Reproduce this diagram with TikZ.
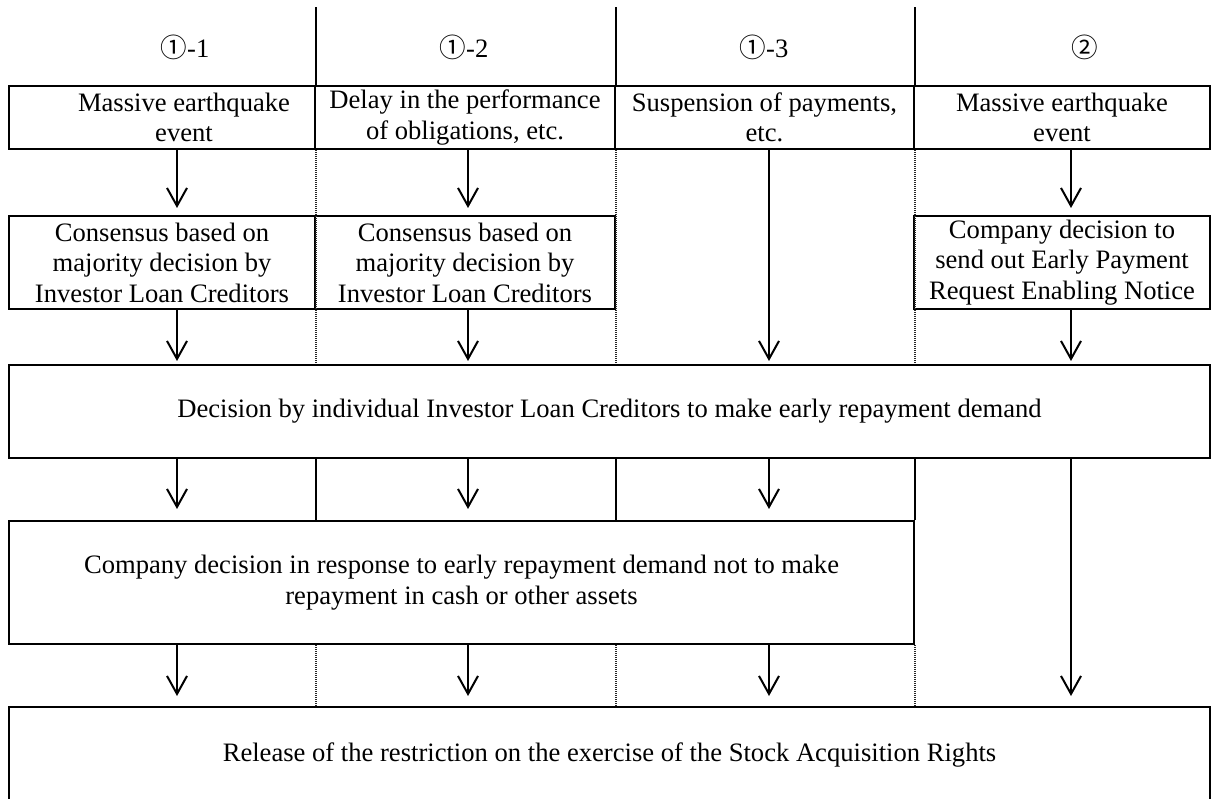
\documentclass[tikz,border=0pt]{standalone}
\usepackage{fontspec}
\setmainfont{Liberation Serif}
\newfontfamily\circfont{Noto Sans CJK JP}
\usetikzlibrary{arrows.meta}

\tikzset{
    txt/.style={align=center, inner sep=0pt, font=\fontsize{26.6}{30.5}\selectfont},
    box/.style={txt, draw, line width=2pt},
    arr/.style={line width=2pt, -{Straight Barb[length=18pt,width=20pt,line width=2pt]}, shorten >=7pt},
    sep/.style={line width=2pt},
    dots/.style={line width=2pt, black!85, dash pattern=on 1pt off 1pt},
}

\begin{document}
\begin{tikzpicture}[x=1pt, y=-1pt]
    \useasboundingbox (0,0) rectangle (1211,799);
    \clip (0,0) rectangle (1211,799);

    \node[txt] (h1) at (185, 47){{\circfont ①}-1};
    \node[txt] (h2) at (464, 47){{\circfont ①}-2};
    \node[txt] (h3) at (764, 47){{\circfont ①}-3};
    \node[txt] (h4) at (1085, 47){{\circfont ②}};

    \node[box, minimum width=306pt, minimum height=63pt,
        label={[txt, xshift=22pt]center:{Massive earthquake\\event}}] (ev1) at (162, 117.5){};
    \node[box, minimum width=300pt, minimum height=63pt] (del) at (465, 117.5){Delay in the performance\\of obligations, etc.};
    \node[box, minimum width=299pt, minimum height=63pt] (sus) at (764.5, 117.5){Suspension of payments,\\etc.};
    \node[box, minimum width=296pt, minimum height=63pt] (ev4) at (1062, 117.5){Massive earthquake\\event};

    \node[box, minimum width=306pt, minimum height=93pt] (con1) at (162, 262.5){Consensus based on\\majority decision by\\Investor Loan Creditors};
    \node[box, minimum width=300pt, minimum height=93pt] (con2) at (465, 262.5){Consensus based on\\majority decision by\\Investor Loan Creditors};
    \node[box, minimum width=296pt, minimum height=93pt] (not4) at (1062, 262.5){Company decision to\\send out Early Payment\\Request Enabling Notice};

    \node[box, minimum width=1201pt, minimum height=93pt] (dec) at (609.5, 411.5){Decision by individual Investor Loan Creditors to make early repayment demand};
    \node[box, minimum width=905pt, minimum height=123pt] (co) at (461.5, 582.5){Company decision in response to early repayment demand not to make\\repayment in cash or other assets};
    \node[box, minimum width=1201pt, minimum height=96pt] (rel) at (609.5, 755){Release of the restriction on the exercise of the Stock Acquisition Rights};

    \coordinate (top) at (0, 7);
    \foreach \n in {ev1, del, sus}{
        \draw[sep] (\n.north east) -- (\n.north east |- top);
        \draw[dots] (\n.south east) -- (\n.south east |- dec.north);
    }
    \foreach \n in {ev1, del}{
        \draw[sep] (dec.south -| \n.east) -- (co.north -| \n.east);
        \draw[dots] (co.south -| \n.east) -- (rel.north -| \n.east);
    }
    \draw[sep] (dec.south -| co.east) -- (co.north east);
    \draw[dots] (co.south east) -- (rel.north -| co.east);

    \foreach \c/\x in {a1/177, a2/468, a3/769, a4/1071}{
        \coordinate (\c) at (\x, 0);
    }

    \draw[arr] (ev1.south -| a1) -- (con1.north -| a1);
    \draw[arr, shorten >=3pt] (con1.south -| a1) -- (dec.north -| a1);
    \draw[arr, shorten >=11pt] (dec.south -| a1) -- (co.north -| a1);
    \draw[arr, shorten >=10pt] (co.south -| a1) -- (rel.north -| a1);

    \draw[arr] (del.south -| a2) -- (con2.north -| a2);
    \draw[arr, shorten >=3pt] (con2.south -| a2) -- (dec.north -| a2);
    \draw[arr, shorten >=11pt] (dec.south -| a2) -- (co.north -| a2);
    \draw[arr, shorten >=10pt] (co.south -| a2) -- (rel.north -| a2);

    \draw[arr, shorten >=3pt] (sus.south -| a3) -- (dec.north -| a3);
    \draw[arr, shorten >=11pt] (dec.south -| a3) -- (co.north -| a3);
    \draw[arr, shorten >=10pt] (co.south -| a3) -- (rel.north -| a3);

    \draw[arr] (ev4.south -| a4) -- (not4.north -| a4);
    \draw[arr, shorten >=3pt] (not4.south -| a4) -- (dec.north -| a4);
    \draw[arr, shorten >=10pt] (dec.south -| a4) -- (rel.north -| a4);
\end{tikzpicture}
\end{document}
